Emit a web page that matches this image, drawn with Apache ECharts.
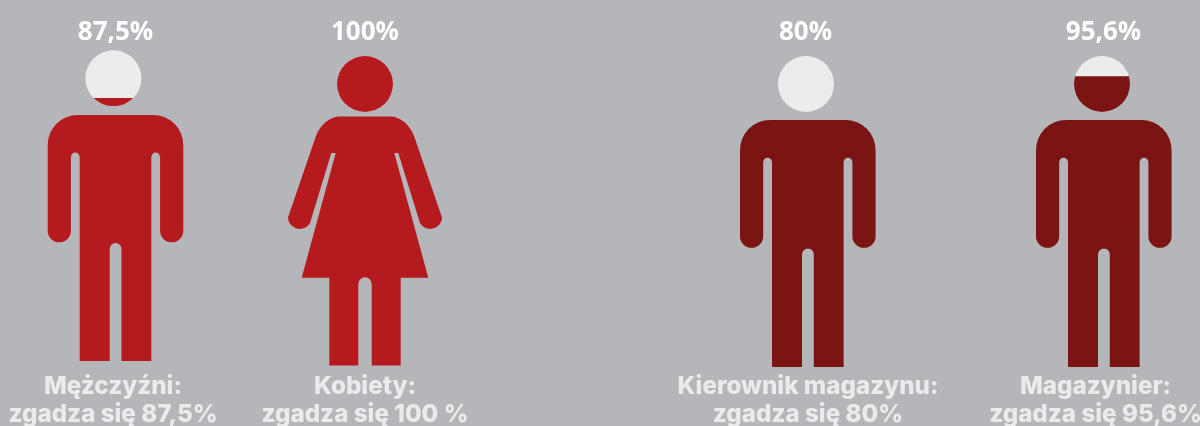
<!DOCTYPE html>
<html><head><meta charset="utf-8">
<style>html,body{margin:0;padding:0;background:#b5b6b9}#c{width:1200px;height:426px}</style>
<script src="https://cdn.jsdelivr.net/npm/echarts@6/dist/echarts.min.js"></script>
</head><body><div id="c"></div>
<script>
const groups = ['Mężczyźni', 'Kobiety', 'Kierownik magazynu', 'Magazynier'];
const percents = [87.5, 100, 80, 95.6];
const percentLabels = ['87,5%', '100%', '80%', '95,6%'];
const captionFirst = ['Mężczyźni:', 'Kobiety:', 'Kierownik magazynu:', 'Magazynier:'];
const captionSecond = ['zgadza się 87,5%', 'zgadza się 100 %', 'zgadza się 80%', 'zgadza się 95,6%'];
// share of each head's height that is filled in the picture
const headFill = [0.15, 1, 0, 0.64];

const MAN = 'path://M30,0H105.6A30,30 0 0 1 135.6,30V115.7A11.6,11.6 0 0 1 112.4,115.7V42A4.4,4.4 0 0 0 103.6,42V246H73.8V133.8A5.9,5.9 0 0 0 62,133.8V246H32V42A4.4,4.4 0 0 0 23.2,42V115.7A11.6,11.6 0 0 1 0,115.7V30A30,30 0 0 1 30,0Z';
const WOMAN = 'path://M52,0H102C112,0 122,8 126.3,20.2L154,101A11.8,11.8 0 0 1 132,106.5L110.3,36.5H106.3L140.3,161.2H112.7V249H83.7V167.5A6.7,6.7 0 0 0 70.3,167.5V249H41.3V161.2H13.7L47.7,36.5H43.3L22,106.5A11.8,11.8 0 0 1 0,101L27.7,20.2C32,8 42,0 52,0Z';

const figures = [
  {symbol: MAN,   color: '#b41a1e', head: [85.4, 50.3], body: [47.7, 115,   135.6, 246], pct: [115.5, 32.5],  cap: 113},
  {symbol: WOMAN, color: '#b41a1e', head: [337,  56],   body: [288,  116.5, 154,   249], pct: [365,   32.5],  cap: 365},
  {symbol: MAN,   color: '#7a1513', head: [778,  56],   body: [740,  120,   135.6, 247], pct: [805.5, 32.5],  cap: 808},
  {symbol: MAN,   color: '#7a1513', head: [1074, 56],   body: [1036, 120,   135.6, 247], pct: [1103.5, 32.5], cap: 1095.5}
];
const LIGHT = '#ececec', HEAD = 56;

const grid = [], xAxis = [], yAxis = [], series = [], title = [];
figures.forEach((f, i) => {
  const g = grid.length;
  grid.push({left: f.head[0], top: f.head[1], width: HEAD, height: HEAD, containLabel: false});
  grid.push({left: f.body[0], top: f.body[1], width: f.body[2], height: f.body[3], containLabel: false});
  [g, g + 1].forEach((idx, k) => {
    xAxis.push({type: 'category', gridIndex: idx, data: [groups[i]], show: false});
    yAxis.push({type: 'value', gridIndex: idx, min: 0, max: k ? 100 : 1, show: false});
  });
  const headBase = {type: 'pictorialBar', xAxisIndex: g, yAxisIndex: g, symbol: 'circle',
    symbolSize: [HEAD, HEAD], symbolPosition: 'start', barWidth: '100%', silent: true, animation: false};
  series.push(Object.assign({}, headBase, {name: groups[i] + ' tło', data: [1], itemStyle: {color: LIGHT}, z: 2}));
  if (headFill[i] > 0) {
    series.push(Object.assign({}, headBase, {name: groups[i] + ' wypełnienie', data: [headFill[i]],
      symbolClip: true, symbolBoundingData: 1, itemStyle: {color: f.color}, z: 3}));
  }
  series.push({type: 'pictorialBar', name: groups[i], xAxisIndex: g + 1, yAxisIndex: g + 1,
    symbol: f.symbol, symbolSize: [f.body[2], f.body[3]], symbolPosition: 'start', barWidth: '100%',
    data: [percents[i]], itemStyle: {color: f.color}, silent: true, animation: false, z: 2});
  title.push({text: percentLabels[i], left: f.pct[0], top: f.pct[1] - 17, textAlign: 'center',
    padding: 0, textStyle: {color: '#ffffff', fontFamily: 'Open Sans', fontWeight: 700, fontSize: 26, lineHeight: 34}});
  title.push({text: captionFirst[i] + '\n' + captionSecond[i], left: f.cap, top: 372.5, textAlign: 'center',
    padding: 0, textStyle: {color: '#ebebeb', fontFamily: 'Inter', fontWeight: 800, fontSize: 24.2, lineHeight: 28, align: 'center'}});
});

const chart = echarts.init(document.getElementById('c'), null, {renderer: 'canvas'});
chart.setOption({backgroundColor: '#b5b6b9', animation: false, tooltip: {show: false}, legend: {show: false},
  title, grid, xAxis, yAxis, series});
</script></body></html>
